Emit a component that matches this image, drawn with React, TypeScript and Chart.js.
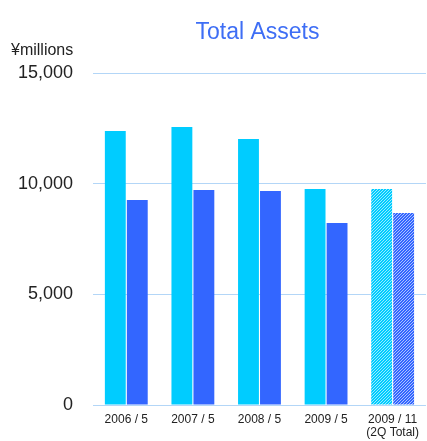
import React, { useEffect, useRef } from "react";
import { Chart, registerables } from "chart.js";

Chart.register(...registerables);

const categories: (string | string[])[] = ["2006 / 5", "2007 / 5", "2008 / 5", "2009 / 5", ["2009 / 11", "(2Q Total)"]];
const seriesA = [12380, 12560, 12020, 9760, 9760];
const seriesB = [9260, 9710, 9670, 8220, 8680];
const yTicks = [0, 5000, 10000, 15000];
const titleText = "Total Assets";
const unitText = "¥millions";

function makePattern(base: string): CanvasPattern | string {
  const c = document.createElement("canvas");
  c.width = 3;
  c.height = 3;
  const ctx = c.getContext("2d");
  if (!ctx) return base;
  ctx.fillStyle = base;
  ctx.fillRect(0, 0, 3, 3);
  ctx.fillStyle = "rgba(255,255,255,0.6)";
  for (let i = 0; i < 3; i++) {
    ctx.fillRect(2 - i, i, 1, 1);
  }
  return ctx.createPattern(c, "repeat") || base;
}

export default function App() {
  const ref = useRef<HTMLCanvasElement>(null);
  useEffect(() => {
    document.body.style.margin = "0";
    const cyan = "#00ccff";
    const blue = "#3366ff";
    const pA = makePattern(cyan);
    const pB = makePattern(blue);
    const textPlugin = {
      id: "texts",
      afterDraw(chart: any) {
        const ctx = chart.ctx;
        ctx.save();
        ctx.fillStyle = "#3e6ef5";
        ctx.font = "23px 'Liberation Sans', Arial, sans-serif";
        ctx.textAlign = "center";
        ctx.textBaseline = "middle";
        const ca = chart.chartArea;
        ctx.fillText(titleText, (ca.left + ca.right) / 2 - 2, 33);
        ctx.fillStyle = "#222";
        ctx.font = "16px 'Liberation Sans', Arial, sans-serif";
        ctx.textAlign = "left";
        ctx.fillText(unitText, 11, 51);
        ctx.restore();
      },
    };
    const chart = new Chart(ref.current!, {
      type: "bar",
      data: {
        labels: categories,
        datasets: [
          {
            data: seriesA,
            backgroundColor: seriesA.map((_, i) => (i === seriesA.length - 1 ? pA : cyan)) as any,
            categoryPercentage: 0.66,
            barPercentage: 0.95,
          },
          {
            data: seriesB,
            backgroundColor: seriesB.map((_, i) => (i === seriesB.length - 1 ? pB : blue)) as any,
            categoryPercentage: 0.66,
            barPercentage: 0.95,
          },
        ],
      },
      options: {
        animation: false,
        responsive: false,
        maintainAspectRatio: false,
        layout: { padding: { top: 73, left: 0, right: 0, bottom: 2 } },
        plugins: { legend: { display: false }, tooltip: { enabled: false } },
        scales: {
          x: {
            afterFit: (s: any) => {
              s.height = 34;
            },
            grid: { display: false, drawTicks: false },
            border: { display: false },
            ticks: {
              color: "#222",
              padding: 8,
              maxRotation: 0,
              autoSkip: false,
              font: { family: "'Liberation Sans', Arial, sans-serif", size: 12, lineHeight: 1.1 },
            },
          },
          y: {
            min: 0,
            max: 15000,
            afterFit: (s: any) => {
              s.width = 93;
            },
            afterBuildTicks: (s: any) => {
              s.ticks = yTicks.map((v) => ({ value: v }));
            },
            grid: { color: "#b3d6f7", drawTicks: false, lineWidth: 1 },
            border: { display: false },
            ticks: {
              color: "#222",
              padding: 20,
              font: { family: "'Liberation Sans', Arial, sans-serif", size: 18 },
              callback: (v: any) => Number(v).toLocaleString("en-US"),
            },
          },
        },
      },
      plugins: [textPlugin],
    });
    return () => chart.destroy();
  }, []);
  return (
    <div style={{ position: "absolute", left: 0, top: 0, width: 427, height: 441 }}>
      <canvas ref={ref} width={427} height={441} />
    </div>
  );
}
